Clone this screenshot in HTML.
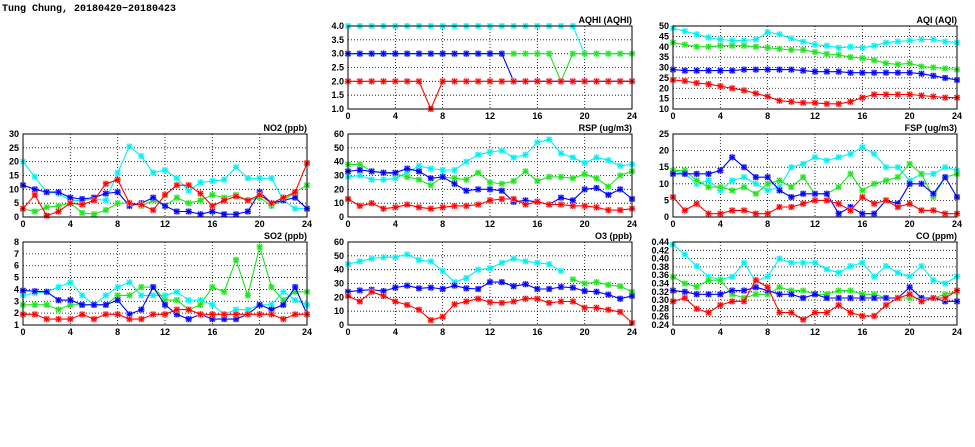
<!DOCTYPE html>
<html><head><meta charset="utf-8"><style>
html,body{margin:0;padding:0;background:#fff;}
svg{display:block;font-family:"Liberation Sans",sans-serif;}
</style></head><body>
<svg id="s" width="975" height="447" xmlns="http://www.w3.org/2000/svg">
<text x="2" y="11" font-size="10" font-weight="bold" font-family="Liberation Mono, monospace">Tung Chung, 20180420−20180423</text>
</svg>
<script>
var N=null;
var P=[
{t:"AQHI (AQHI)",x:348,y:26,min:1,max:4,st:0.5,d:1,s:[
[4,4,4,4,4,4,4,4,4,4,4,4,4,4,4,4,4,4,4,4,3,3,3,3,3],
[3,3,3,3,3,3,3,3,3,3,3,3,3,3,3,3,3,3,2,3,3,3,3,3,3],
[3,3,3,3,3,3,3,3,3,3,3,3,3,3,2,2,2,2,2,2,2,2,2,2,2],
[2,2,2,2,2,2,2,1,2,2,2,2,2,2,2,2,2,2,2,2,2,2,2,2,2]]},
{t:"AQI (AQI)",x:673,y:26,min:10,max:50,st:5,d:0,s:[
[49,47.5,46,44.5,43.5,43,43,43.5,47,46,44,42.5,41,40.5,39.5,40,39.5,40.5,42,42.5,43,43.5,43.5,42.5,42],
[42,41,40,40,40.5,40.5,40.5,40,39.5,39,38.5,38.5,37.5,36.5,36,35,34.5,33.5,32,31.5,32,30.5,30,29.5,29],
[29,28.5,28.5,28.5,28.5,28.5,29,29,29,29,29,28.5,28,28,28,27.5,27.5,27.5,27.5,27.5,27.5,27,26,25,24],
[24,23.5,22.5,22,21,20,19,17.5,16,14,13.5,13,13,12.5,12.5,13.5,15.5,17,17,17,17,16.5,16,15.5,15.5]]},
{t:"NO2 (ppb)",x:23,y:134,min:0,max:30,st:5,d:0,s:[
[20,14.5,9,8.5,6,6,6.5,6,16,25.5,22,16,17,14,9.5,12.5,13,13.5,18,14,14,14,6,3,3],
[3,2,3.5,4,5,1.5,1,2.5,5,5,4,6,4,7,5,6,8,7,8,6,7,4,6,9,11.5],
[11.5,10,9,9,7,6.5,7,8.5,9,4,5,7,4,2,2,1,2,1,1,2,9,5,6,7,3],
[3,8,0.5,2,5,4.5,6,12,13.5,5,4.5,2.5,8,11.5,11.5,8.5,4,6,7.5,6,8,5,7,9,19.5]]},
{t:"RSP (ug/m3)",x:348,y:134,min:0,max:60,st:10,d:0,s:[
[29,30,27,27,28,32,37,35,34,34,40,45,47,48,43,45,54,56,46,43,39,43,41,37,38],
[38,38,33,32,31,29,27,23,29,28,27,32,25,24,26,33,26,29,29,28,31,28,22,30,33],
[33,34,33,32,32,35,33,28,29,24,19,20,20,19,11,12,11,9,14,12,20,21,16,20,13],
[13,8,10,6,7,9,7,6,7,8,8,9,12,13,13,9,11,9,9,8,8,7,5,5,6]]},
{t:"FSP (ug/m3)",x:673,y:134,min:0,max:25,st:5,d:0,s:[
[14,13,10,11,8,11,12,10,8,9,15,16,18,17,18,19,21,19,15,15,11,13,13,15,14],
[14,14,11,9,9,8,9,7,10,11,9,12,7,7,9,13,8,10,11,12,16,13,6,12,13],
[13,13,13,13,14,18,15,12,12,8,6,7,7,7,1,3,1,1,5,4,10,10,7,12,6],
[6,2,4,1,1,2,2,1,1,3,3,4,5,5,4,2,6,4,5,3,4,2,2,1,1]]},
{t:"SO2 (ppb)",x:23,y:242,min:1,max:8,st:1,d:0,s:[
[3.5,3.7,3.8,4.2,4.6,3.5,2.7,3.5,4.2,4.6,3.5,3.5,3.5,3.8,3.1,3.1,2.7,1.9,2.3,2.3,2.7,2.7,3.8,3.1,2.7],
[2.7,2.7,2.7,2.3,2.7,2.7,2.7,2.7,3.5,3.5,4.2,4.2,3.1,3.1,2.3,2.7,4.2,3.8,6.5,3.5,7.6,4.2,3.1,3.8,3.8],
[3.9,3.85,3.8,3.1,3.1,2.7,2.7,2.7,3.1,1.9,2.3,4.2,2.7,1.9,1.5,1.9,1.5,1.5,1.5,1.9,2.7,2.3,2.7,4.2,1.9],
[1.9,1.9,1.5,1.5,1.5,1.9,1.5,1.9,1.9,1.5,1.5,1.9,1.9,2.3,2.3,1.9,1.9,1.9,1.9,1.9,1.9,1.9,1.5,1.9,1.9]]},
{t:"O3 (ppb)",x:348,y:242,min:0,max:60,st:10,d:0,s:[
[44,46,48,49,49,51,47,46,39,31,34,40,41,45,48,46,45,44,39,N,N,N,N,N,N],
[N,N,N,N,N,N,N,N,N,N,N,N,N,N,N,N,N,N,N,33,30,31,29,28,24],
[24,25,25.5,24.5,27,28.5,26.5,27,26,28.5,26.5,26,31,31,28,29.5,26,26,27.5,27,24.5,24,22,19,21],
[21,17,24,21,17,14.5,11,3.5,6,15,17,19,16.5,16,17,19,19,16,17,17,12.5,12.5,11,9.5,1.5]]},
{t:"CO (ppm)",x:673,y:242,min:0.24,max:0.44,st:0.02,d:2,s:[
[.434,.41,.382,.356,.35,.356,.39,.345,.357,.40,.39,.39,.39,.374,.366,.382,.39,.357,.382,.366,.357,.382,.348,.34,.357],
[.356,.34,.332,.348,.348,.314,.305,.314,.314,.331,.323,.323,.314,.314,.323,.323,.314,.314,.305,.305,.305,.305,.305,.314,.32],
[.323,.32,.314,.314,.314,.323,.323,.331,.323,.314,.314,.305,.314,.305,.305,.305,.305,.305,.305,.305,.331,.305,.305,.297,.297],
[.297,.305,.279,.27,.288,.297,.297,.348,.331,.27,.27,.253,.27,.27,.288,.27,.262,.262,.288,.305,.314,.297,.305,.305,.323]]}
];
var C=["#00f0f0","#22e022","#0000ff","#ff0000"],H=["#a0ffff","#a0ffa0","#9090ff","#ffa0a0"];
var W=284,Ht=83,o='';
P.forEach(function(p){
 var X=function(i){return p.x+i*W/24},Y=function(v){return p.y+Ht-(v-p.min)/(p.max-p.min)*Ht};
 var n=Math.round((p.max-p.min)/p.st);
 for(var k=0;k<=n;k++){var v=p.min+k*p.st,y=Y(v);
  if(k>0&&k<n)o+='<line x1="'+p.x+'" x2="'+(p.x+W)+'" y1="'+y+'" y2="'+y+'" stroke="#000" stroke-width="0.8" stroke-dasharray="1,2"/>';
  o+='<text x="'+(p.x-4)+'" y="'+(y+3)+'" font-size="9" font-weight="bold" text-anchor="end">'+v.toFixed(p.d)+'</text>';}
 for(var h=0;h<=24;h+=4){var x=X(h);
  if(h>0&&h<24)o+='<line x1="'+x+'" x2="'+x+'" y1="'+p.y+'" y2="'+(p.y+Ht)+'" stroke="#000" stroke-width="0.8" stroke-dasharray="1,2"/>';
  o+='<text x="'+x+'" y="'+(p.y+Ht+10)+'" font-size="9" font-weight="bold" text-anchor="middle">'+h+'</text>';}
 o+='<text x="'+(p.x+W)+'" y="'+(p.y-3)+'" font-size="9" font-weight="bold" text-anchor="end">'+p.t+'</text>';
 p.s.forEach(function(s,j){
  var d='',m='',pen=false;
  s.forEach(function(v,i){if(v===N){pen=false;return;}var x=X(i),y=Y(v);d+=(pen?'L':'M')+x.toFixed(1)+' '+y.toFixed(1);pen=true;
   m+='M'+(x-2.5)+' '+(y-2.5)+'l5 5M'+(x-2.5)+' '+(y+2.5)+'l5 -5M'+x+' '+(y-3)+'v6M'+(x-3)+' '+y+'h6';});
  o+='<path d="'+m+'" stroke="'+H[j]+'" stroke-width="2.6" fill="none"/>';
  o+='<path d="'+d+'" stroke="'+C[j]+'" stroke-width="1.1" fill="none"/>';
  o+='<path d="'+m+'" stroke="'+C[j]+'" stroke-width="1" fill="none"/>';
 });
 o+='<rect x="'+p.x+'" y="'+p.y+'" width="'+W+'" height="'+Ht+'" fill="none" stroke="#000" stroke-width="1"/>';
});
document.getElementById('s').insertAdjacentHTML('beforeend',o);
</script>
</body></html>
